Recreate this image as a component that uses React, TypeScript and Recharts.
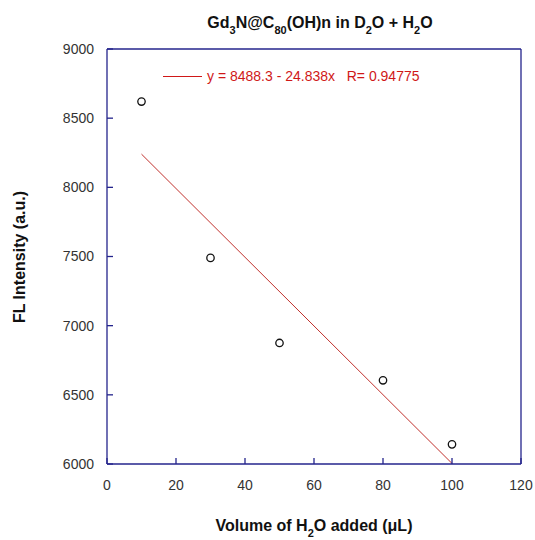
import React from 'react'
import { ComposedChart, Scatter, Line, XAxis, YAxis } from 'recharts'

const volumes = [10, 30, 50, 80, 100]
const intensities = [8620, 7490, 6875, 6605, 6142]
const fitX = [10, 100]
const fitY = [8240, 6004]
const xTicks = [0, 20, 40, 60, 80, 100, 120]
const yTicks = [6000, 6500, 7000, 7500, 8000, 8500, 9000]

const FONT = '"Liberation Sans", Arial, sans-serif'
const FRAME = '#24248c'
const TICK_TEXT = { fontSize: 14, fill: '#333', fontFamily: FONT }
const RED = '#d01818'
const SUB = { fontSize: 11, verticalAlign: 'baseline', position: 'relative' as const, top: 6 }

const points = volumes.map((x, i) => ({ x, y: intensities[i] }))
const fitLine = fitX.map((x, i) => ({ x, y: fitY[i] }))

const noLabel = () => <g />

const OpenCircle = (props: any) => (
  <circle cx={props.cx} cy={props.cy} r={3.7} fill="#fff" stroke="#111" strokeWidth={1.3} />
)

export default function App() {
  return (
    <div style={{ position: 'absolute', left: 0, top: 0, width: 535, height: 540, background: '#fff', fontFamily: FONT }}>
      {/* Title */}
      <div style={{ position: 'absolute', left: 0, width: 640, top: 13, textAlign: 'center', fontSize: 16, fontWeight: 'bold', color: '#111', lineHeight: '20px' }}>
        Gd<span style={SUB}>3</span>N@C<span style={SUB}>80</span>(OH)n in D<span style={SUB}>2</span>O + H<span style={SUB}>2</span>O
      </div>

      <ComposedChart width={535} height={540} margin={{ top: 48, right: 13, bottom: 0, left: 57 }}>
        <XAxis
          dataKey="x" type="number" domain={[0, 120]} ticks={xTicks} allowDataOverflow
          height={76} tickSize={-6} tickMargin={22} tick={TICK_TEXT}
          axisLine={{ stroke: FRAME, strokeWidth: 1.3 }} tickLine={{ stroke: FRAME, strokeWidth: 1.3 }}
        />
        <XAxis
          xAxisId="top" orientation="top" dataKey="x" type="number" domain={[0, 120]} ticks={xTicks}
          height={1} tickSize={-6} tick={noLabel}
          axisLine={{ stroke: FRAME, strokeWidth: 1.3 }} tickLine={{ stroke: FRAME, strokeWidth: 1.3 }}
        />
        <YAxis
          type="number" domain={[6000, 9000]} ticks={yTicks} allowDataOverflow
          width={50} tickSize={-6} tickMargin={19} tick={TICK_TEXT}
          axisLine={{ stroke: FRAME, strokeWidth: 1.3 }} tickLine={{ stroke: FRAME, strokeWidth: 1.3 }}
        />
        <YAxis
          yAxisId="r" orientation="right" type="number" domain={[6000, 9000]} ticks={yTicks}
          width={1} tickSize={-6} tick={noLabel}
          axisLine={{ stroke: FRAME, strokeWidth: 1.3 }} tickLine={{ stroke: FRAME, strokeWidth: 1.3 }}
        />
        <Line
          data={fitLine} dataKey="y" type="linear" stroke="#c0302c" strokeWidth={1}
          dot={false} isAnimationActive={false} legendType="none"
        />
        <Scatter data={points} dataKey="y" shape={OpenCircle} isAnimationActive={false} />
      </ComposedChart>

      {/* Fit legend */}
      <div style={{ position: 'absolute', left: 163, top: 76, width: 39, borderTop: `1px solid ${RED}` }} />
      <div style={{ position: 'absolute', left: 207, top: 68, fontSize: 14, color: RED, whiteSpace: 'pre', lineHeight: '17px' }}>
        {'y = 8488.3 - 24.838x   R= 0.94775'}
      </div>

      {/* Axis titles */}
      <div style={{ position: 'absolute', left: 0, width: 628, top: 516, textAlign: 'center', fontSize: 16, fontWeight: 'bold', color: '#111', lineHeight: '20px' }}>
        Volume of H<span style={SUB}>2</span>O added (μL)
      </div>
      <div style={{ position: 'absolute', left: 20, top: 257, width: 0, height: 0 }}>
        <div style={{ position: 'absolute', transform: 'translate(-50%, -50%) rotate(-90deg)', whiteSpace: 'nowrap', fontSize: 16, fontWeight: 'bold', color: '#111' }}>
          FL Intensity (a.u.)
        </div>
      </div>
    </div>
  )
}
